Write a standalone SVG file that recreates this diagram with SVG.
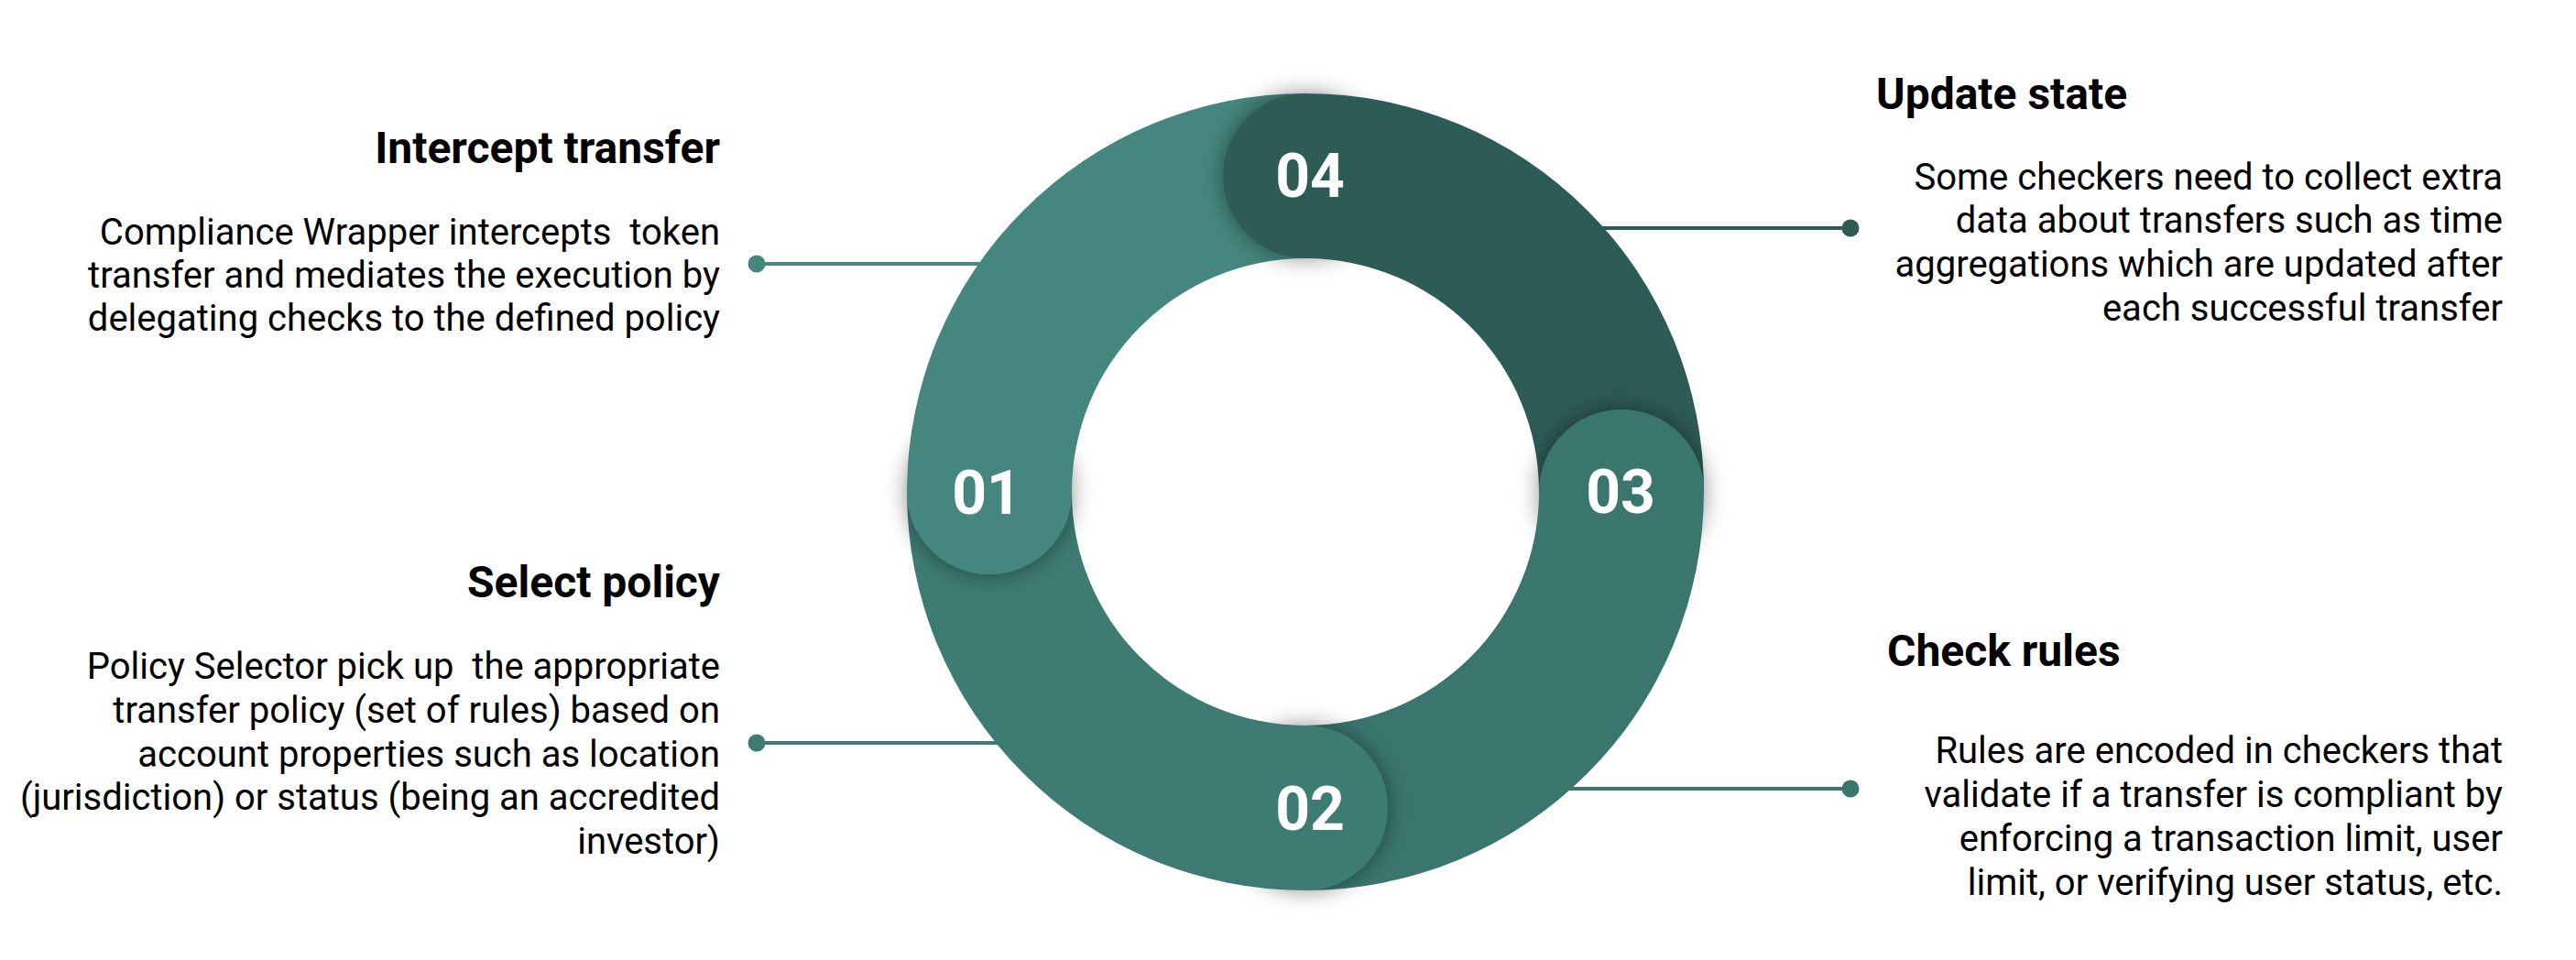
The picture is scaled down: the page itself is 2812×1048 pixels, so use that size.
<svg xmlns="http://www.w3.org/2000/svg" width="2812" height="1048" viewBox="0 0 2812 1048">
<style>
.title{font-family:Roboto,"Liberation Sans",sans-serif;font-weight:700;font-size:48px;fill:#000}
.body{font-family:Roboto,"Liberation Sans",sans-serif;font-weight:400;font-size:40px;fill:#000}
.num{font-family:Roboto,"Liberation Sans",sans-serif;font-weight:700;font-size:66px;fill:#fff;text-anchor:middle}
.conn{stroke-width:4;fill:none}
</style>
<defs>
<filter id="sh" x="-50%" y="-50%" width="200%" height="200%">
<feDropShadow dx="0" dy="0" stdDeviation="12" flood-color="#000" flood-opacity="0.45"/>
</filter>
<clipPath id="c04"><path clip-rule="evenodd" d="M0,0 H2812 V1048 H0 Z M1425,102 A435,435 0 0 1 1860,537 L1680,537 A255,255 0 0 0 1425,282 Z"/></clipPath>
<clipPath id="c03"><path clip-rule="evenodd" d="M0,0 H2812 V1048 H0 Z M1860,537 A435,435 0 0 1 1425,972 L1425,792 A255,255 0 0 0 1680,537 Z"/></clipPath>
<clipPath id="c02"><path clip-rule="evenodd" d="M0,0 H2812 V1048 H0 Z M1425,972 A435,435 0 0 1 990,537 L1170,537 A255,255 0 0 0 1425,792 Z"/></clipPath>
<clipPath id="c01"><path clip-rule="evenodd" d="M0,0 H2812 V1048 H0 Z M990,537 A435,435 0 0 1 1425,102 L1425,282 A255,255 0 0 0 1170,537 Z"/></clipPath>
</defs>
<rect width="2812" height="1048" fill="#fff"/>
<g id="connectors">
<line class="conn" x1="826" y1="288" x2="1100" y2="288" stroke="#4A8A82"/>
<circle cx="826" cy="288" r="9.5" fill="#45877E"/>
<line class="conn" x1="826" y1="811" x2="1110" y2="811" stroke="#3D7B73"/>
<circle cx="826" cy="811" r="9.5" fill="#3D7B73"/>
<line class="conn" x1="1720" y1="249" x2="2020" y2="249" stroke="#2D5B55"/>
<circle cx="2020" cy="249" r="9.5" fill="#2D5B55"/>
<line class="conn" x1="1690" y1="861" x2="2020" y2="861" stroke="#3A766E"/>
<circle cx="2020" cy="861" r="9.5" fill="#3A766E"/>
</g>
<g id="ring">
<path d="M990,537 A435,435 0 0 1 1425,102 L1425,282 A255,255 0 0 0 1170,537 Z" fill="#45877E"/>
<path d="M1425,102 A435,435 0 0 1 1860,537 L1680,537 A255,255 0 0 0 1425,282 Z" fill="#2D5B55"/>
<path d="M1860,537 A435,435 0 0 1 1425,972 L1425,792 A255,255 0 0 0 1680,537 Z" fill="#3A766E"/>
<path d="M1425,972 A435,435 0 0 1 990,537 L1170,537 A255,255 0 0 0 1425,792 Z" fill="#3D7B73"/>
</g>
<g id="step01">
<g clip-path="url(#c01)"><circle cx="1080" cy="537" r="90" fill="#45877E" filter="url(#sh)"/></g>
<text class="num" x="1077" y="561">01</text>
</g>
<g id="step02">
<g clip-path="url(#c02)"><circle cx="1425" cy="882" r="90" fill="#3D7B73" filter="url(#sh)"/></g>
<text class="num" x="1430" y="906">02</text>
</g>
<g id="step03">
<g clip-path="url(#c03)"><circle cx="1770" cy="537" r="90" fill="#3A766E" filter="url(#sh)"/></g>
<text class="num" x="1769" y="560">03</text>
</g>
<g id="step04">
<g clip-path="url(#c04)"><circle cx="1425" cy="192" r="90" fill="#2D5B55" filter="url(#sh)"/></g>
<text class="num" x="1430" y="215">04</text>
</g>
<g id="text01" text-anchor="end">
<text class="title" x="786" y="178">Intercept transfer</text>
<text class="body" x="786" y="267" xml:space="preserve">Compliance Wrapper intercepts  token</text>
<text class="body" x="786" y="314">transfer and mediates the execution by</text>
<text class="body" x="786" y="361">delegating checks to the defined policy</text>
</g>
<g id="text02" text-anchor="end">
<text class="title" x="786" y="652">Select policy</text>
<text class="body" x="786" y="741" xml:space="preserve">Policy Selector pick up  the appropriate</text>
<text class="body" x="786" y="789">transfer policy (set of rules) based on</text>
<text class="body" x="786" y="837">account properties such as location</text>
<text class="body" x="786" y="884">(jurisdiction) or status (being an accredited</text>
<text class="body" x="786" y="932">investor)</text>
</g>
<g id="text03">
<text class="title" x="2060" y="727">Check rules</text>
<g text-anchor="end">
<text class="body" x="2732" y="833">Rules are encoded in checkers that</text>
<text class="body" x="2732" y="881">validate if a transfer is compliant by</text>
<text class="body" x="2732" y="929">enforcing a transaction limit, user</text>
<text class="body" x="2732" y="977">limit, or verifying user status, etc.</text>
</g>
</g>
<g id="text04">
<text class="title" x="2048" y="119">Update state</text>
<g text-anchor="end">
<text class="body" x="2732" y="207">Some checkers need to collect extra</text>
<text class="body" x="2732" y="254">data about transfers such as time</text>
<text class="body" x="2732" y="302">aggregations which are updated after</text>
<text class="body" x="2732" y="350">each successful transfer</text>
</g>
</g>
</svg>
